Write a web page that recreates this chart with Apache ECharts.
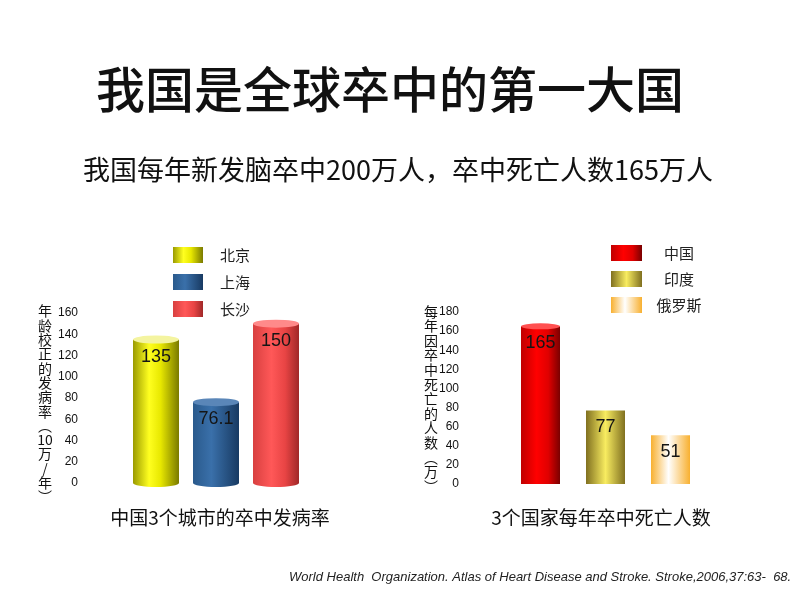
<!DOCTYPE html>
<html><head><meta charset="utf-8">
<script src="https://cdn.jsdelivr.net/npm/echarts@6/dist/echarts.min.js"></script>
<style>html,body{margin:0;padding:0;background:#fff}#c{width:800px;height:600px}</style>
</head><body><div id="c"></div>
<script>
// ---- data ----
const cityNames = ['北京', '上海', '长沙'];
const cityValues = [135, 76.1, 150];
const countryNames = ['中国', '印度', '俄罗斯'];
const countryValues = [165, 77, 51];
const leftTicks = {min: 0, max: 160, interval: 20};
const rightTicks = {min: 0, max: 180, interval: 20};
const leftAxisName = ['年','龄','校','正','的','发','病','率','︵','10','万','/','年','︶'];
const rightAxisName = ['每','年','因','卒','中','死','亡','的','人','数','︵','万','︶'];

const CJK = '"Noto Sans CJK SC", sans-serif';
const LAT = '"Liberation Sans", Arial, sans-serif';

function grad(stops) {
  return new echarts.graphic.LinearGradient(0, 0, 1, 0, stops.map(s => ({offset: s[0], color: s[1]})));
}
const cityColors = [
  grad([[0,'#9a9a00'],[0.35,'#ffff20'],[0.6,'#e8e800'],[1,'#7a7a00']]),
  grad([[0,'#2a5a8c'],[0.4,'#3a70aa'],[1,'#183a62']]),
  grad([[0,'#d84040'],[0.4,'#ff5858'],[0.7,'#e84444'],[1,'#a02828']])
];
const cityCaps = ['#f4f4a0', '#5a86b8', '#ff8a8a'];
const countryColors = [
  grad([[0,'#c00000'],[0.4,'#ff0000'],[0.7,'#e00000'],[1,'#7a0000']]),
  grad([[0,'#807020'],[0.5,'#f8ec60'],[1,'#807020']]),
  grad([[0,'#f8b030'],[0.45,'#ffffff'],[1,'#f8b030']])
];

function only(i, v, n) { const a = new Array(n).fill('-'); a[i] = v; return a; }

const labelStyle = {show: true, position: 'insideTop', distance: 8, fontFamily: LAT, fontSize: 18, color: '#151515'};
const series = [];
cityNames.forEach((name, i) => {
  series.push({
    name, type: 'bar', xAxisIndex: 0, yAxisIndex: 0, stack: 'city', barWidth: 46,
    data: only(i, cityValues[i], cityNames.length),
    itemStyle: {color: cityColors[i]},
    label: labelStyle
  });
});
series.push({
  type: 'pictorialBar', xAxisIndex: 0, yAxisIndex: 0, symbol: 'circle', symbolSize: [46, 8],
  symbolPosition: 'end', symbolOffset: [0, '-50%'], z: 5, silent: true,
  data: cityValues.map((v, i) => ({value: v, itemStyle: {color: cityCaps[i]}}))
});
series.push({
  type: 'pictorialBar', xAxisIndex: 0, yAxisIndex: 0, symbol: 'circle', symbolSize: [46, 8],
  symbolPosition: 'start', symbolOffset: [0, '50%'], z: 1, silent: true,
  data: cityValues.map((v, i) => ({value: v, itemStyle: {color: cityColors[i]}}))
});
countryNames.forEach((name, i) => {
  series.push({
    name, type: 'bar', xAxisIndex: 1, yAxisIndex: 1, stack: 'country', barWidth: i === 0 ? 39 : 36,
    data: only(i, countryValues[i], countryNames.length),
    itemStyle: {color: countryColors[i]},
    label: labelStyle
  });
});
series.push({
  type: 'pictorialBar', xAxisIndex: 1, yAxisIndex: 1, symbol: 'circle', symbolSize: [39, 6],
  symbolPosition: 'end', symbolOffset: [0, '-50%'], z: 5, silent: true,
  data: countryValues.map((v, i) => i === 0 ? {value: v, itemStyle: {color: '#ff5050'}} : {value: v, symbolSize: [0, 0]})
});

const yAxisCommon = {
  type: 'value', splitLine: {show: false}, axisLine: {show: false}, axisTick: {show: false},
  axisLabel: {fontFamily: LAT, fontSize: 12, color: '#111', margin: 48}
};

const option = {
  backgroundColor: '#ffffff',
  animation: false,
  grid: [
    {left: 126, width: 180, top: 313, height: 170},
    {left: 508, width: 195, top: 312, height: 172}
  ],
  xAxis: [
    {type: 'category', gridIndex: 0, data: cityNames, show: false},
    {type: 'category', gridIndex: 1, data: countryNames, show: false}
  ],
  yAxis: [
    Object.assign({gridIndex: 0}, yAxisCommon, leftTicks),
    Object.assign({gridIndex: 1}, yAxisCommon, rightTicks, {axisLabel: Object.assign({}, yAxisCommon.axisLabel, {margin: 49})})
  ],
  legend: [
    {data: cityNames, orient: 'vertical', left: 173, top: 247, padding: 0, itemWidth: 30, itemHeight: 16, itemGap: 11,
     icon: 'rect', textStyle: {fontFamily: CJK, fontSize: 15, color: '#222', padding: [0, 0, 0, 12]}},
    {data: countryNames, orient: 'vertical', left: 611, top: 245, padding: 0, itemWidth: 31, itemHeight: 16, itemGap: 10,
     icon: 'rect', formatter: n => '{c|' + n + '}',
     textStyle: {fontFamily: CJK, fontSize: 15, color: '#222',
       rich: {c: {width: 48, align: 'center', fontFamily: CJK, fontSize: 15, color: '#222', padding: [0, 0, 0, 8]}}}}
  ],
  graphic: [
    {type: 'text', x: 390, y: 89, style: {text: '我国是全球卒中的第一大国', font: '500 49px ' + CJK, fill: '#111', align: 'center', verticalAlign: 'middle'}},
    {type: 'text', x: 398, y: 170, style: {text: '我国每年新发脑卒中200万人，卒中死亡人数165万人', font: '27px ' + CJK, fill: '#111', align: 'center', verticalAlign: 'middle'}},
    {type: 'text', x: 220, y: 518, style: {text: '中国3个城市的卒中发病率', font: '19px ' + CJK, fill: '#111', align: 'center', verticalAlign: 'middle'}},
    {type: 'text', x: 601, y: 518, style: {text: '3个国家每年卒中死亡人数', font: '19px ' + CJK, fill: '#111', align: 'center', verticalAlign: 'middle'}},
    {type: 'text', x: 45, y: 304, style: {text: leftAxisName.join('\n'), font: '14px ' + CJK, lineHeight: 14.3, fill: '#111', align: 'center'}},
    {type: 'text', x: 431, y: 304, style: {text: rightAxisName.join('\n'), font: '14px ' + CJK, lineHeight: 14.6, fill: '#111', align: 'center'}},
    {type: 'text', x: 289, y: 571, style: {text: 'World Health  Organization. Atlas of Heart Disease and Stroke. Stroke,2006,37:63-  68.', font: 'italic 13px ' + LAT, fill: '#222'}}
  ],
  series
};
echarts.init(document.getElementById('c')).setOption(option);
</script></body></html>
